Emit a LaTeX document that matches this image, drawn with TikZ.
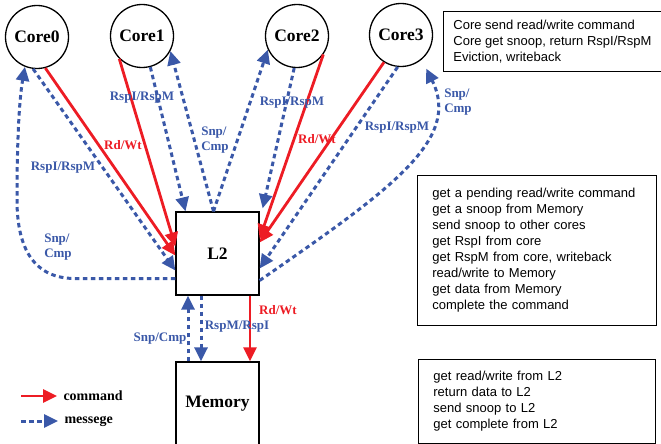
\documentclass[tikz,border=0pt]{standalone}
\usepackage{fontspec}
\setmainfont{Liberation Serif}
\newfontfamily\notefont{Liberation Sans}
\usetikzlibrary{arrows.meta}
\definecolor{cmdred}{HTML}{ED1C24}
\definecolor{msgblue}{HTML}{3A58A8}

\begin{document}
\begin{tikzpicture}[x=1pt,y=-1pt,
  core/.style={draw,circle,line width=1.3pt,minimum size=63pt,inner sep=0pt,
               font=\fontsize{17.5}{20}\selectfont\bfseries},
  unit/.style={draw,line width=1.3pt,minimum width=83pt,inner sep=0pt,
               font=\fontsize{17.5}{20}\selectfont\bfseries},
  note/.style={draw,line width=0.8pt,anchor=north west,inner xsep=15pt,inner ysep=0pt,
               align=left,font=\notefont\fontsize{13}{16}\selectfont},
  cmd/.style={-{Triangle[length=14pt,width=13pt]},draw=cmdred,line width=2.8pt},
  msg/.style={-{Triangle[length=14pt,width=13pt]},draw=msgblue,line width=3pt,
              dash pattern=on 4.5pt off 3.5pt},
  lbl/.style={font=\fontsize{13}{15}\selectfont\bfseries,inner sep=0pt,align=left},
  key/.style={anchor=west,font=\fontsize{14}{16}\selectfont\bfseries}
]
\useasboundingbox (0,0) rectangle (661,444);

% cores, L2 and memory
\node[core] (core0) at (37,37) {Core0};
\node[core] (core1) at (142,36) {Core1};
\node[core] (core2) at (297,36) {Core2};
\node[core] (core3) at (401,35) {Core3};
\node[unit,minimum height=83pt] (l2) at (217.5,253.5) {L2};
\node[unit,minimum height=84pt] (mem) at (217.5,404) {Memory};

% notes
\node[note,inner xsep=10pt,minimum width=217pt,minimum height=60pt] (corenote) at (443,11)
  {Core send read/write command\\
   Core get snoop, return RspI/RspM\\
   Eviction, writeback};
\node[note,text width=209pt,minimum height=150pt] (l2note) at (417,175)
  {get a pending read/write command\\
   get a snoop from Memory\\
   send snoop to other cores\\
   get RspI from core\\
   get RspM from core, writeback\\
   read/write to Memory\\
   get data from Memory\\
   complete the command};
\node[note,text width=207pt,minimum height=84pt] (memnote) at (418,359)
  {get read/write from L2\\
   return data to L2\\
   send snoop to L2\\
   get complete from L2};

% commands
\draw[cmd] (core0.-75) -- ([yshift=-2pt]l2.west);
\draw[cmd] (core1.-135) -- ([yshift=7pt]l2.west);
\draw[cmd] (core2.-35) -- ([yshift=15pt]l2.east);
\draw[cmd] (core3.-122) -- ([yshift=11pt]l2.east);
\draw[cmd] ([xshift=32.5pt]l2.south) -- ([xshift=32.5pt]mem.north);

% messages
\draw[msg] (core0.-97) -- ([yshift=-17pt]l2.west);
\draw[msg] ([yshift=-25pt]l2.west) -- (75,278.5)
  .. controls (35,278.5) and (17,250) .. (17,200)
  .. controls (17,130) and (20,95) .. (core0.-112);
\draw[msg] (core1.-75) -- ([xshift=-32pt]l2.north);
\draw[msg] ([xshift=-4pt]l2.north) -- (core1.-28);
\draw[msg] ([xshift=-4pt]l2.north) -- (core2.-155);
\draw[msg] (core2.-95) -- ([shift={(3pt,3pt)}]l2.north east);
\draw[msg] (core3.-96) -- ([yshift=-15pt]l2.east);
\draw[msg,shorten >=10pt] ([yshift=-27pt]l2.east)
  .. controls (390,190) and (462,140) .. (core3.-50);
\draw[msg] ([xshift=-29.5pt]mem.north) -- ([xshift=-29.5pt]l2.south);
\draw[msg] ([xshift=-16.5pt]l2.south) -- ([xshift=-16.5pt]mem.north);

% labels
\node[lbl,text=cmdred] (rw0) at (123,145) {Rd/Wt};
\node[lbl,text=cmdred] (rw2) at (317,139) {Rd/Wt};
\node[lbl,text=cmdred] (rwm) at (278,310) {Rd/Wt};
\node[lbl,text=msgblue] (rs0) at (63,168) {RspI/RspM};
\node[lbl,text=msgblue] (rs1) at (142,98) {RspI/RspM};
\node[lbl,text=msgblue] (rs2) at (292,103) {RspI/RspM};
\node[lbl,text=msgblue] (rs3) at (397,128) {RspI/RspM};
\node[lbl,text=msgblue] (sc0) at (58,247) {Snp/\\Cmp};
\node[lbl,text=msgblue] (sc12) at (215,140) {Snp/\\Cmp};
\node[lbl,text=msgblue] (sc3) at (458,102) {Snp/\\Cmp};
\node[lbl,text=msgblue] (scm) at (160,339) {Snp/Cmp};
\node[lbl,text=msgblue] (rsm) at (237,327) {RspM/RspI};

% legend
\coordinate (cmdfrom) at (21,396);
\coordinate (msgfrom) at (21,421);
\node[key] (cmdkey) at (60,396) {command};
\node[key] (msgkey) at (61,421) {messege};
\draw[cmd,shorten >=3pt] (cmdfrom) -- (cmdkey.west);
\draw[msg,shorten >=3pt] (msgfrom) -- (msgkey.west);
\end{tikzpicture}
\end{document}
